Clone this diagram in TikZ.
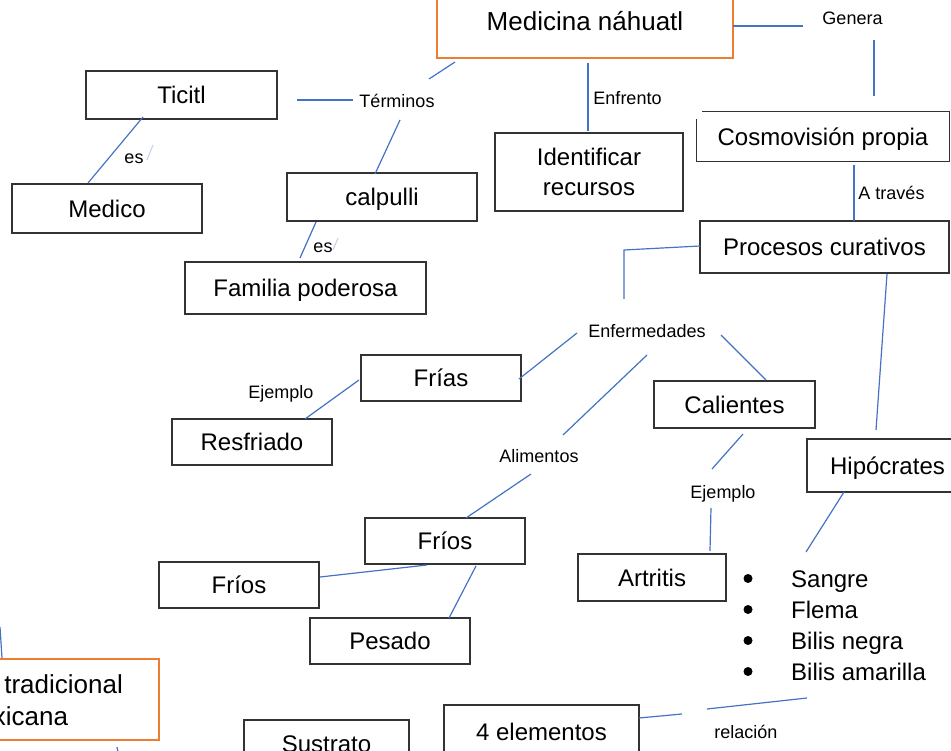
\documentclass[tikz,border=0pt]{standalone}
\usepackage{fontspec}
\setmainfont{Liberation Sans}
\definecolor{lineblue}{HTML}{4472C4}
\definecolor{boxorange}{HTML}{ED7D31}
\definecolor{boxgray}{HTML}{333333}
\definecolor{faintblue}{HTML}{C5D3EC}
\begin{document}
\begin{tikzpicture}[x=1pt,y=-1pt,
  boxbase/.style={draw=boxgray,line width=1.4pt,inner sep=0pt,align=center,
    font=\fontsize{24}{30}\selectfont},
  box/.style={boxbase,text height=17.2pt,text depth=0pt},
  mbox/.style={boxbase},
  obox/.style={mbox,draw=boxorange},
  lbl/.style={inner sep=0pt,font=\fontsize{18}{21}\selectfont,text height=12.9pt,text depth=0pt},
  item/.style={inner sep=0pt,anchor=west,font=\fontsize{24}{30}\selectfont,text height=17.2pt,text depth=0pt},
  dot/.style={circle,fill=black,inner sep=0pt,minimum size=9pt},
  con/.style={draw=lineblue,line width=1.2pt},
  faint/.style={draw=faintblue,line width=1.1pt}]
\useasboundingbox (0,0) rectangle (951,751);
\clip (0,0) rectangle (951,751);

% ---------- boxes ----------
\node[obox,font=\fontsize{26}{31}\selectfont,minimum width=296pt,minimum height=74pt] (med) at (585,21) {Medicina náhuatl};
\node[box,minimum width=191pt,minimum height=48pt] (tic) at (181.5,95) {Ticitl};
\node[box,minimum width=190pt,minimum height=49pt] (medico) at (107,208.5) {Medico};
\node[box,minimum width=190pt,minimum height=48pt] (calp) at (382,197) {calpulli};
\node[box,minimum width=241pt,minimum height=52pt] (fam) at (305.5,288) {Familia poderosa};
\node[mbox,minimum width=188pt,minimum height=78pt] (ident) at (589,172) {Identificar\\recursos};
\node[box,draw=none,minimum width=252pt,minimum height=49pt] (cosmo) at (823,136.5) {Cosmovisión propia};
\draw[draw=boxgray,line width=1.4pt] ([xshift=6pt]cosmo.north west) -- (cosmo.north east) -- (cosmo.south east) -- (cosmo.south west) -- ([yshift=-8pt]cosmo.north west);
\node[box,minimum width=249pt,minimum height=52pt] (proc) at (824.5,247) {Procesos curativos};
\node[box,minimum width=160pt,minimum height=46pt] (frias) at (441,378) {Frías};
\node[box,minimum width=160pt,minimum height=46pt] (resf) at (252,442) {Resfriado};
\node[box,minimum width=161pt,minimum height=47pt] (cal) at (734.5,404.5) {Calientes};
\node[box,minimum width=161pt,minimum height=53pt] (hip) at (887.5,465.5) {Hipócrates};
\node[box,minimum width=160pt,minimum height=46pt] (friosU) at (445,541) {Fríos};
\node[box,minimum width=160pt,minimum height=46pt] (friosL) at (239,585) {Fríos};
\node[box,minimum width=160pt,minimum height=46pt] (pes) at (390,641) {Pesado};
\node[box,minimum width=148pt,minimum height=47pt] (artr) at (652,577.5) {Artritis};
\node[obox,draw=none,font=\fontsize{26}{32}\selectfont] (tradtext) at (8,700) {Medicina tradicional\\\hspace*{9pt}mexicana};
\node[draw=boxorange,line width=1.4pt,inner sep=0pt,minimum width=282pt,minimum height=81pt] (trad) at (18,699.5) {};
\node[box,minimum width=165pt,minimum height=48pt] (sust) at (326.5,744) {Sustrato};
\node[box,minimum width=195pt,minimum height=53pt] (elem) at (541.5,731.5) {4 elementos};

% ---------- bullet list ----------
\foreach \i/\y/\t in {1/578.5/Sangre,2/609.5/Flema,3/640.5/Bilis negra,4/671.5/Bilis amarilla}{
  \node[dot] (b\i) at (748,\y) {};
  \node[item] (t\i) at (791,\y) {\t};
}

% ---------- labels ----------
\node[lbl] (terminos) at (397,101) {Términos};
\node[lbl] (es1) at (134,157) {es};
\node[lbl] (es2) at (323,246) {es};
\node[lbl] (enfrento) at (627.5,98) {Enfrento};
\node[lbl] (genera) at (852.5,18.5) {Genera};
\node[lbl] (atraves) at (891.5,193) {A través};
\node[lbl] (enferm) at (647,330.7) {Enfermedades};
\node[lbl] (ejemplo1) at (281,392) {Ejemplo};
\node[lbl] (alimentos) at (539,456) {Alimentos};
\node[lbl] (ejemplo2) at (723,492) {Ejemplo};
\node[lbl] (relacion) at (746,732) {relación};

% ---------- connector end points ----------
\coordinate (a1) at (297,100);   \coordinate (a2) at (353,100);
\coordinate (b1p) at (429,79);   \coordinate (b2p) at (455,62);
\coordinate (c1) at (400,120);   \coordinate (c2) at (375,174);
\coordinate (d1) at (143,117);   \coordinate (d2) at (88,183);
\coordinate (e1) at (316,222);   \coordinate (e2) at (300,258);
\coordinate (f1) at (588,63);    \coordinate (f2) at (588,131);
\coordinate (g1) at (733,26);    \coordinate (g2) at (803,26);
\coordinate (h1) at (874,40);    \coordinate (h2) at (874,96);
\coordinate (i1) at (854,165);   \coordinate (i2) at (854,221);
\coordinate (j1) at (700,246);   \coordinate (j2) at (624,250);  \coordinate (j3) at (624,299);
\coordinate (k1) at (887,274);   \coordinate (k2) at (876,430);
\coordinate (l1) at (844,492);   \coordinate (l2) at (806,552);
\coordinate (m1) at (807,698);   \coordinate (m2) at (707,709);
\coordinate (m3) at (682,714);   \coordinate (m4) at (639,718);
\coordinate (n1) at (577,333);   \coordinate (n2) at (519,379);
\coordinate (o1) at (721,335);   \coordinate (o2) at (766,380);
\coordinate (q1) at (647,355);   \coordinate (q2) at (563,435);
\coordinate (r1) at (531,474);   \coordinate (r2) at (466,518);
\coordinate (s1) at (427,565);   \coordinate (s2) at (320,577);
\coordinate (u1) at (476,566);   \coordinate (u2) at (449,618);
\coordinate (v1) at (359,380);   \coordinate (v2) at (305,419);
\coordinate (w1) at (743,434);   \coordinate (w2) at (712,469);
\coordinate (x1) at (711,508);   \coordinate (x2) at (710,551);
\coordinate (y1) at (0,627);     \coordinate (y2) at (2,658);
\coordinate (z1) at (117,747);   \coordinate (z2) at (118,752);
\coordinate (fa1) at (147,160);  \coordinate (fa2) at (153,145);
\coordinate (fb1) at (333,250);  \coordinate (fb2) at (338,238);

% ---------- connectors ----------
\draw[con] (a1) -- (a2);
\draw[con] (b1p) -- (b2p);
\draw[con] (c1) -- (c2);
\draw[con] (d1) -- (d2);
\draw[con] (e1) -- (e2);
\draw[con] (f1) -- (f2);
\draw[con] (g1) -- (g2);
\draw[con] (h1) -- (h2);
\draw[con] (i1) -- (i2);
\draw[con] (j1) -- (j2) -- (j3);
\draw[con] (k1) -- (k2);
\draw[con] (l1) -- (l2);
\draw[con] (m1) -- (m2);
\draw[con] (m3) -- (m4);
\draw[con] (n1) -- (n2);
\draw[con] (o1) -- (o2);
\draw[con] (q1) -- (q2);
\draw[con] (r1) -- (r2);
\draw[con] (s1) -- (s2);
\draw[con] (u1) -- (u2);
\draw[con] (v1) -- (v2);
\draw[con] (w1) -- (w2);
\draw[con] (x1) -- (x2);
\draw[con] (y1) -- (y2);
\draw[con] (z1) -- (z2);
\draw[faint] (fa1) -- (fa2);
\draw[faint] (fb1) -- (fb2);
\end{tikzpicture}
\end{document}
